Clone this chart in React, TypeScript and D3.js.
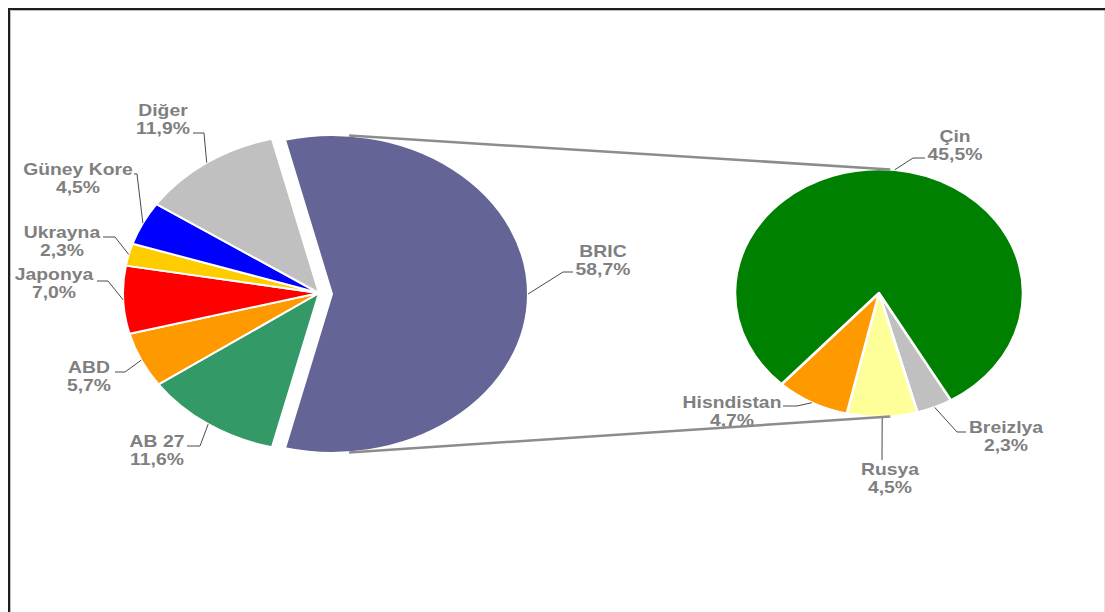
import React from "react";
import * as d3 from "d3";

// ---- Data ----
const leftCategories = ["BRIC", "AB 27", "ABD", "Japonya", "Ukrayna", "Güney Kore", "Diğer"];
const leftValues = [58.7, 11.6, 5.7, 7.0, 2.3, 4.5, 11.9];
const leftColors = ["#646496", "#339966", "#FF9900", "#FF0000", "#FFCC00", "#0000FF", "#C0C0C0"];

const rightCategories = ["Breizlya", "Rusya", "Hisndistan", "Çin"];
const rightValues = [2.3, 4.5, 4.7, 45.5];
const rightColors = ["#C0C0C0", "#FFFF99", "#FF9900", "#008000"];

// ---- Layout (annotation positions) ----
// label text centre x, first baseline y, leader start, leader elbow
const leftLabelLayout = [
  { x: 603, y: 257, p0: [573, 272], p1: [563, 272] },
  { x: 157, y: 447, p0: [187, 446], p1: [200, 446] },
  { x: 89, y: 373, p0: [115, 372], p1: [125, 372] },
  { x: 54, y: 280, p0: [97, 281], p1: [108, 281] },
  { x: 62, y: 238, p0: [103, 237], p1: [115, 237] },
  { x: 78, y: 175, p0: [134, 174], p1: [137, 174] },
  { x: 163, y: 116, p0: [193, 133], p1: [204, 133] },
];
const rightLabelLayout = [
  { x: 1006, y: 433, p0: [966, 432], p1: [957, 432] },
  { x: 890, y: 475, p0: [882, 460], p1: [882, 460] },
  { x: 732, y: 408, p0: [783, 406], p1: [797, 406] },
  { x: 955, y: 142, p0: [925, 158], p1: [913, 158] },
];

const L = { cx: 319, cy: 293, rx: 196, ry: 159 };
const LB = { cx: 332, cy: 294 }; // exploded BRIC slice centre
const R = { cx: 879, cy: 293, rx: 144, ry: 124 };

const fmt = (v: number) => d3.format(".1f")(v).replace(".", ",") + "%";
const TEXT_COLOR = "#7f7f7f";
const FONT = "'Liberation Sans', Arial, Helvetica, sans-serif";

function ellPt(cx: number, cy: number, rx: number, ry: number, a: number): [number, number] {
  return [cx + rx * Math.sin(a), cy - ry * Math.cos(a)];
}

function Label({ x, y, name, value }: { x: number; y: number; name: string; value: string }) {
  return (
    <g>
      <text transform={`translate(${x},${y}) scale(1.21,1)`} textAnchor="middle" fill={TEXT_COLOR}
        fontFamily={FONT} fontWeight="bold" fontSize={16}>{name}</text>
      <text transform={`translate(${x},${y + 18}) scale(1.21,1)`} textAnchor="middle" fill={TEXT_COLOR}
        fontFamily={FONT} fontWeight="bold" fontSize={16}>{value}</text>
    </g>
  );
}

export default function App() {
  const leftSum = d3.sum(leftValues);
  const bricSpan = (leftValues[0] / leftSum) * 2 * Math.PI;
  const lStart = Math.PI / 2 - bricSpan / 2;
  const leftPie = d3.pie<number>().sort(null).value((d) => d).startAngle(lStart).endAngle(lStart + 2 * Math.PI)(leftValues);

  const rStart = (150 * Math.PI) / 180;
  const rightPie = d3.pie<number>().sort(null).value((d) => d).startAngle(rStart).endAngle(rStart + 2 * Math.PI)(rightValues);

  const arcL = d3.arc<any>().innerRadius(0).outerRadius(L.ry);
  const arcR = d3.arc<any>().innerRadius(0).outerRadius(R.ry);

  const line = d3.line();

  // connector lines
  const aTop = (5 * Math.PI) / 180;
  const aBot = (175 * Math.PI) / 180;
  const cTopA = ellPt(LB.cx, LB.cy, L.rx, L.ry, aTop);
  const cBotA = ellPt(LB.cx, LB.cy, L.rx, L.ry, aBot);
  const aTopR = (4.5 * Math.PI) / 180;
  const aBotR = (175.5 * Math.PI) / 180;
  const cTopB = ellPt(R.cx, R.cy, R.rx, R.ry, aTopR);
  const cBotB = ellPt(R.cx, R.cy, R.rx, R.ry, aBotR);

  return (
    <svg width={1105} height={612} style={{ position: "absolute", left: 0, top: 0, background: "#fff" }}>
      <rect x={0} y={0} width={1105} height={612} fill="#fff" />
      {/* frame */}
      <rect x={9} y={9} width={1200} height={700} fill="none" stroke="#1e1e1e" strokeWidth={2} />
      <rect x={10.5} y={10.5} width={1200} height={700} fill="none" stroke="#bdbdbd" strokeWidth={1} />
      <line x1={1104.5} y1={11} x2={1104.5} y2={612} stroke="#e2e2e2" strokeWidth={1} />

      {/* left pie */}
      {leftPie.map((s, i) => {
        const c = i === 0 ? LB : L;
        return (
          <g key={leftCategories[i]} transform={`translate(${c.cx},${c.cy}) scale(${L.rx / L.ry},1)`}>
            <path d={arcL(s) || ""} fill={leftColors[i]} stroke="#fff" strokeWidth={2}
              strokeLinejoin="round" vectorEffect="non-scaling-stroke" />
          </g>
        );
      })}

      {/* right pie */}
      {rightPie.map((s, i) => (
        <g key={rightCategories[i]} transform={`translate(${R.cx},${R.cy}) scale(${R.rx / R.ry},1)`}>
          <path d={arcR(s) || ""} fill={rightColors[i]} stroke="#fff" strokeWidth={2.5}
            strokeLinejoin="round" vectorEffect="non-scaling-stroke" />
        </g>
      ))}

      {/* leader lines + labels */}
      {leftPie.map((s, i) => {
        const mid = (s.startAngle + s.endAngle) / 2;
        const c = i === 0 ? LB : L;
        const pt = ellPt(c.cx, c.cy, L.rx, L.ry, mid);
        const lay = leftLabelLayout[i];
        return (
          <g key={"ll" + i}>
            <path d={line([lay.p0 as [number, number], lay.p1 as [number, number], pt]) || ""} fill="none" stroke="#4a4a4a" strokeWidth={1} />
            <Label x={lay.x} y={lay.y} name={leftCategories[i]} value={fmt(leftValues[i])} />
          </g>
        );
      })}
      {rightPie.map((s, i) => {
        const mid = (s.startAngle + s.endAngle) / 2;
        const pt = ellPt(R.cx, R.cy, R.rx, R.ry, mid);
        const lay = rightLabelLayout[i];
        return (
          <g key={"rl" + i}>
            <path d={line([lay.p0 as [number, number], lay.p1 as [number, number], pt]) || ""} fill="none" stroke="#4a4a4a" strokeWidth={1} />
            <Label x={lay.x} y={lay.y} name={rightCategories[i]} value={fmt(rightValues[i])} />
          </g>
        );
      })}

      {/* connector lines */}
      <line x1={cTopA[0]} y1={cTopA[1]} x2={cTopB[0]} y2={cTopB[1]} stroke="#8c8c8c" strokeWidth={2.5} />
      <line x1={cBotA[0]} y1={cBotA[1]} x2={cBotB[0]} y2={cBotB[1]} stroke="#8c8c8c" strokeWidth={2.5} />
    </svg>
  );
}
